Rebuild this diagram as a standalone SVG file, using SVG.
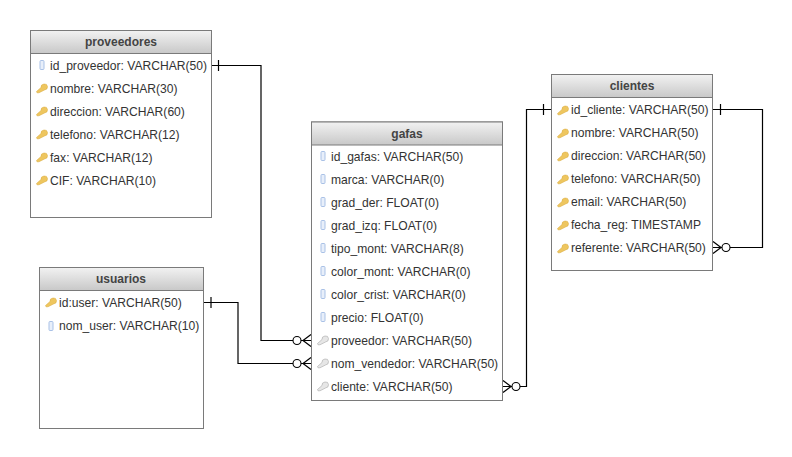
<svg xmlns="http://www.w3.org/2000/svg" width="792" height="457" viewBox="0 0 792 457">
<style>
text{font-family:"Liberation Sans",Arial,sans-serif;font-size:12.1px;fill:#333}
.t{font-weight:bold;text-anchor:middle;fill:#444;font-size:12px}
.b{fill:#fff;stroke:#7a7a7a;stroke-width:1}
.h{fill:url(#hg);stroke:#7a7a7a;stroke-width:1}
.c{fill:none;stroke:#000;stroke-width:1.2}
.o{fill:#fff;stroke:#000;stroke-width:1.1}
</style>
<defs>
<linearGradient id="hg" x1="0" y1="0" x2="0" y2="1"><stop offset="0" stop-color="#f2f2f2"/><stop offset="1" stop-color="#c8c8c8"/></linearGradient>
<path id="keyshape" d="M-5.500 3.500 L-1 -0.500 A3.300 3 -20 1 1 2.500 2 L-3 4.800 L-5 4.800 Z"/>
<use id="key" href="#keyshape" fill="#eec65f" stroke="#d9a93a" stroke-width=".5"/>
<use id="fk" href="#keyshape" fill="#e6e6e6" stroke="#a8a8a8" stroke-width=".6"/>
<rect id="col" x="-2" y="-4.500" width="4" height="9" rx="1" fill="#e8effa" stroke="#a9c1e6" stroke-width="1"/>
</defs>
<rect width="792" height="457" fill="#fff"/>
<g id="connectors">
<path class="c" d="M212 65.500H261V340.500H311"/><path class="c" d="M218.500 60V71"/>
<path class="c" d="M204 302.500H238V363.500H311"/><path class="c" d="M211 297V308"/>
<path class="c" d="M503 386.500H526.500V109.500H551"/><path class="c" d="M543.500 104V115"/>
<path class="c" d="M713 109.500H762.500V247.500H713"/><path class="c" d="M720.500 104V115"/>
<g id="crow1"><path class="c" d="M311 334.500L303 340.500L311 346.500"/><circle class="o" cx="297" cy="340.500" r="4"/></g>
<g id="crow2"><path class="c" d="M311 357.500L303 363.500L311 369.500"/><circle class="o" cx="297" cy="363.500" r="4"/></g>
<g id="crow3"><path class="c" d="M503 380.500L511 386.500L503 392.500"/><circle class="o" cx="516" cy="386.500" r="4"/></g>
<g id="crow4"><path class="c" d="M713 241.500L721 247.500L713 253.500"/><circle class="o" cx="726" cy="247.500" r="4"/></g>
</g>
<g id="proveedores">
<rect class="b" x="30.500" y="30.500" width="181" height="187"/><rect class="h" x="30.500" y="30.500" width="181" height="23"/>
<text class="t" x="121" y="46">proveedores</text>
<use href="#col" x="42" y="65"/><text x="50" y="69.500">id_proveedor: VARCHAR(50)</text>
<use href="#key" x="42" y="88"/><text x="50" y="92.500">nombre: VARCHAR(30)</text>
<use href="#key" x="42" y="111"/><text x="50" y="115.500">direccion: VARCHAR(60)</text>
<use href="#key" x="42" y="134"/><text x="50" y="138.500">telefono: VARCHAR(12)</text>
<use href="#key" x="42" y="157"/><text x="50" y="161.500">fax: VARCHAR(12)</text>
<use href="#key" x="42" y="180"/><text x="50" y="184.500">CIF: VARCHAR(10)</text>
</g>
<g id="usuarios">
<rect class="b" x="39.500" y="267.500" width="164" height="161"/><rect class="h" x="39.500" y="267.500" width="164" height="23"/>
<text class="t" x="121" y="283">usuarios</text>
<use href="#key" x="51" y="302"/><text x="59" y="306.500">id:user: VARCHAR(50)</text>
<use href="#col" x="51" y="326"/><text x="59" y="329.500">nom_user: VARCHAR(10)</text>
</g>
<g id="gafas">
<rect class="b" x="311.500" y="122" width="191" height="278.500"/><rect class="h" x="311.500" y="122" width="191" height="23"/>
<text class="t" x="407" y="137.500">gafas</text>
<use href="#col" x="323" y="156"/><text x="331" y="160.500">id_gafas: VARCHAR(50)</text>
<use href="#col" x="323" y="179"/><text x="331" y="183.500">marca: VARCHAR(0)</text>
<use href="#col" x="323" y="202"/><text x="331" y="206.500">grad_der: FLOAT(0)</text>
<use href="#col" x="323" y="225"/><text x="331" y="229.500">grad_izq: FLOAT(0)</text>
<use href="#col" x="323" y="248"/><text x="331" y="252.500">tipo_mont: VARCHAR(8)</text>
<use href="#col" x="323" y="271"/><text x="331" y="275.500">color_mont: VARCHAR(0)</text>
<use href="#col" x="323" y="294"/><text x="331" y="298.500">color_crist: VARCHAR(0)</text>
<use href="#col" x="323" y="317"/><text x="331" y="321.500">precio: FLOAT(0)</text>
<use href="#fk" x="323" y="340"/><text x="331" y="344.500">proveedor: VARCHAR(50)</text>
<use href="#fk" x="323" y="363"/><text x="331" y="367.500">nom_vendedor: VARCHAR(50)</text>
<use href="#fk" x="323" y="386"/><text x="331" y="390.500">cliente: VARCHAR(50)</text>
</g>
<g id="clientes">
<rect class="b" x="551.500" y="74.500" width="161" height="196"/><rect class="h" x="551.500" y="74.500" width="161" height="23"/>
<text class="t" x="632" y="90">clientes</text>
<use href="#key" x="563" y="110"/><text x="571" y="113.500">id_cliente: VARCHAR(50)</text>
<use href="#key" x="563" y="133"/><text x="571" y="136.500">nombre: VARCHAR(50)</text>
<use href="#key" x="563" y="156"/><text x="571" y="159.500">direccion: VARCHAR(50)</text>
<use href="#key" x="563" y="179"/><text x="571" y="182.500">telefono: VARCHAR(50)</text>
<use href="#key" x="563" y="202"/><text x="571" y="205.500">email: VARCHAR(50)</text>
<use href="#key" x="563" y="225"/><text x="571" y="228.500">fecha_reg: TIMESTAMP</text>
<use href="#key" x="563" y="248"/><text x="571" y="251.500">referente: VARCHAR(50)</text>
</g>
</svg>
